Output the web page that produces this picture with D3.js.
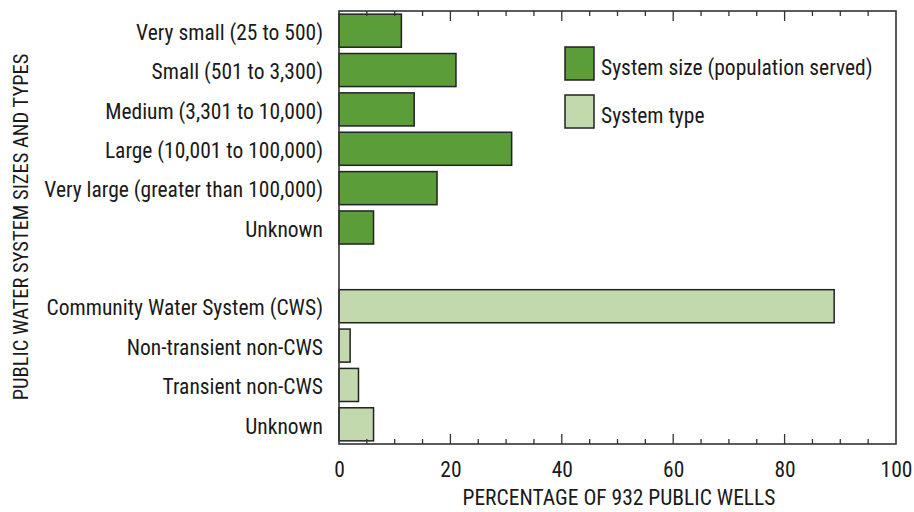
<!DOCTYPE html>
<html><head><meta charset="utf-8">
<script src="https://cdn.jsdelivr.net/npm/d3@7"></script>
<style>
body{margin:0;background:#fff;}
svg text{font-family:"Liberation Sans Narrow","Arial Narrow","Roboto Condensed",sans-serif;fill:#1a1a1a;font-size:21.5px;}
</style></head>
<body><svg id="chart" width="914" height="512"></svg>
<script>
const categories = ["Very small (25 to 500)","Small (501 to 3,300)","Medium (3,301 to 10,000)","Large (10,001 to 100,000)","Very large (greater than 100,000)","Unknown","","Community Water System (CWS)","Non-transient non-CWS","Transient non-CWS","Unknown"];
const values = [11.2, 21.0, 13.5, 31.0, 17.6, 6.2, null, 88.9, 2.0, 3.5, 6.2];
const groups = ["size","size","size","size","size","size",null,"type","type","type","type"];
const legendLabels = ["System size (population served)","System type"];
const xTicks = [0,20,40,60,80,100];
const colors = {size:"#5b9d39", type:"#c2d9ae"};

const svg = d3.select("#chart");
const L=339, R=896, T=11, B=444;
const x = d3.scaleLinear().domain([0,100]).range([L,R]);
const keys = categories.map((c,i)=>i);
const y = d3.scaleBand().domain(keys).range([T,B]).paddingInner(0.16).paddingOuter(0.08);

// bars
svg.append("g").selectAll("rect").data(keys.filter(i=>values[i]!=null)).join("rect")
  .attr("x", x(0)).attr("y", i=>y(i)).attr("width", i=>x(values[i])-x(0)).attr("height", y.bandwidth())
  .attr("fill", i=>colors[groups[i]]).attr("stroke","#222").attr("stroke-width",1.5);

// frame
svg.append("rect").attr("x",L).attr("y",T).attr("width",R-L).attr("height",B-T)
  .attr("fill","none").attr("stroke","#333").attr("stroke-width",1.6);

// ticks (inward, bottom and top)
const minor = d3.range(0,101,5);
const tk = svg.append("g").attr("stroke","#333").attr("stroke-width",1.3);
minor.forEach(v=>{
  if(v===0||v===100) return;
  const len = v%20===0?10:5;
  tk.append("line").attr("x1",x(v)).attr("x2",x(v)).attr("y1",B).attr("y2",B-len);
  tk.append("line").attr("x1",x(v)).attr("x2",x(v)).attr("y1",T).attr("y2",T+len);
});

// x tick labels via axis
const xa = svg.append("g").attr("transform",`translate(0,${B})`)
  .call(d3.axisBottom(x).tickValues(xTicks).tickSize(0).tickPadding(18));
xa.select(".domain").remove();
xa.selectAll("text").attr("fill","#1a1a1a").attr("dy","0.71em");

// y labels
const ya = svg.append("g").attr("transform",`translate(${L},0)`)
  .call(d3.axisLeft(y).tickFormat(i=>categories[i]).tickSize(0).tickPadding(16));
ya.select(".domain").remove();
ya.selectAll("text").attr("fill","#1a1a1a").attr("dy","0.43em");

// axis titles
svg.append("text").attr("x",619).attr("y",505).attr("text-anchor","middle")
  .text("PERCENTAGE OF 932 PUBLIC WELLS");
svg.append("text").attr("transform",`translate(28,227) rotate(-90)`).attr("text-anchor","middle")
  .style("font-size","20.5px")
  .text("PUBLIC WATER SYSTEM SIZES AND TYPES");

// legend
const lg = svg.append("g");
legendLabels.forEach((t,i)=>{
  const yy = 47 + i*48;
  lg.append("rect").attr("x",565).attr("y",yy).attr("width",29).attr("height",33)
    .attr("fill", i===0?colors.size:colors.type).attr("stroke","#222").attr("stroke-width",1.5);
  lg.append("text").attr("x",601).attr("y",yy+28).text(t);
});
</script></body></html>
